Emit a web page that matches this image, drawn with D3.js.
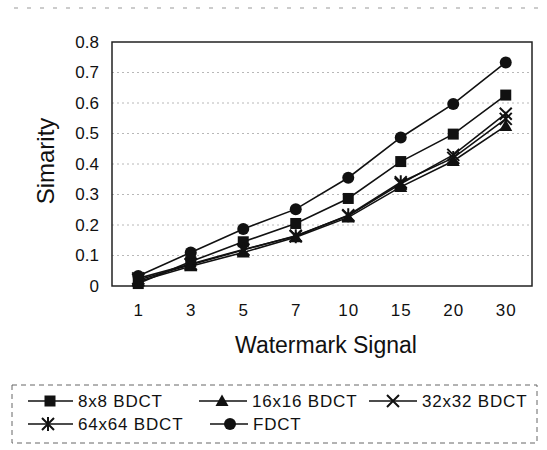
<!DOCTYPE html>
<html>
<head>
<meta charset="utf-8">
<script src="https://cdn.jsdelivr.net/npm/d3@7"></script>
<style>
  body { margin: 0; background: #fff; }
  svg { display: block; font-family: 'Liberation Sans', Arial, sans-serif; }
</style>
</head>
<body>
<div id="chart"></div>
<script>
const categories = ['1', '3', '5', '7', '10', '15', '20', '30']
const yTicks = [0, 0.1, 0.2, 0.3, 0.4, 0.5, 0.6, 0.7, 0.8]
const bdct8 = [0.008, 0.08, 0.145, 0.205, 0.287, 0.408, 0.498, 0.626]
const bdct16 = [0.015, 0.065, 0.11, 0.16, 0.225, 0.325, 0.41, 0.525]
const bdct32 = [0.02, 0.07, 0.118, 0.165, 0.23, 0.335, 0.43, 0.565]
const bdct64 = [0.025, 0.072, 0.12, 0.163, 0.232, 0.34, 0.42, 0.548]
const fdct = [0.033, 0.11, 0.187, 0.252, 0.355, 0.487, 0.597, 0.733]

const series = [
  { name: '8x8 BDCT', values: bdct8, marker: 'square' },
  { name: '16x16 BDCT', values: bdct16, marker: 'triangle' },
  { name: '32x32 BDCT', values: bdct32, marker: 'cross' },
  { name: '64x64 BDCT', values: bdct64, marker: 'star' },
  { name: 'FDCT', values: fdct, marker: 'circle' }
]

const width = 547
const height = 450
const margin = { top: 42, right: 15, bottom: 164, left: 112 }

const svg = d3.select('#chart').append('svg').attr('width', width).attr('height', height)

const xScale = d3
  .scalePoint()
  .domain(categories)
  .range([margin.left, width - margin.right])
  .padding(0.5)

const yScale = d3
  .scaleLinear()
  .domain([0, 0.8])
  .range([height - margin.bottom, margin.top])

// scan artifact line at the very top
svg
  .append('line')
  .attr('x1', 14)
  .attr('x2', 540)
  .attr('y1', 8)
  .attr('y2', 8)
  .attr('stroke', '#999')
  .attr('stroke-width', 1)
  .attr('stroke-dasharray', '4,9')

// grid lines
svg
  .append('g')
  .selectAll('line')
  .data(yTicks.filter((d) => d > 0 && d < 0.8))
  .join('line')
  .attr('x1', margin.left)
  .attr('x2', width - margin.right)
  .attr('y1', (d) => yScale(d))
  .attr('y2', (d) => yScale(d))
  .attr('stroke', '#b8b8b8')
  .attr('stroke-width', 1)
  .attr('stroke-dasharray', '2,3')

// plot frame
svg
  .append('rect')
  .attr('x', margin.left)
  .attr('y', margin.top)
  .attr('width', width - margin.right - margin.left)
  .attr('height', height - margin.bottom - margin.top)
  .attr('fill', 'none')
  .attr('stroke', '#222')
  .attr('stroke-width', 1.5)

// y axis
const yAxis = d3
  .axisLeft(yScale)
  .tickValues(yTicks)
  .tickFormat((d) => (d === 0 ? '0' : d3.format('.1f')(d)))
  .tickSize(0)
  .tickPadding(13)

svg
  .append('g')
  .attr('transform', `translate(${margin.left},0)`)
  .call(yAxis)
  .call((g) => {
    g.select('.domain').remove()
    g.selectAll('.tick text')
      .attr('fill', '#111')
      .attr('font-size', '17px')
      .attr('font-family', "'Liberation Sans', Arial, sans-serif")
  })

// x axis
const xAxis = d3.axisBottom(xScale).tickSize(0).tickPadding(18)

svg
  .append('g')
  .attr('transform', `translate(0,${height - margin.bottom})`)
  .call(xAxis)
  .call((g) => {
    g.select('.domain').remove()
    g.selectAll('.tick text')
      .attr('fill', '#111')
      .attr('font-size', '17px')
      .attr('letter-spacing', '1px')
      .attr('font-family', "'Liberation Sans', Arial, sans-serif")
  })

// axis titles
svg
  .append('text')
  .attr('x', 326)
  .attr('y', 353)
  .attr('text-anchor', 'middle')
  .attr('font-size', '23px')
  .attr('fill', '#111')
  .text('Watermark Signal')

svg
  .append('text')
  .attr('transform', 'translate(54,161) rotate(-90)')
  .attr('text-anchor', 'middle')
  .attr('font-size', '24px')
  .attr('fill', '#111')
  .text('Simarity')

// marker drawing
const drawMarker = (g, type, x, y) => {
  if (type === 'square') {
    g.append('rect')
      .attr('x', x - 5.5)
      .attr('y', y - 5.5)
      .attr('width', 11)
      .attr('height', 11)
      .attr('fill', '#111')
  } else if (type === 'triangle') {
    g.append('path')
      .attr('d', `M${x},${y - 6.5}L${x + 6.5},${y + 5}L${x - 6.5},${y + 5}Z`)
      .attr('fill', '#111')
  } else if (type === 'circle') {
    g.append('circle').attr('cx', x).attr('cy', y).attr('r', 6).attr('fill', '#111')
  } else if (type === 'cross') {
    g.append('path')
      .attr('d', `M${x - 6},${y - 6}L${x + 6},${y + 6}M${x - 6},${y + 6}L${x + 6},${y - 6}`)
      .attr('stroke', '#111')
      .attr('stroke-width', 2)
  } else if (type === 'star') {
    g.append('path')
      .attr(
        'd',
        `M${x - 6},${y - 6}L${x + 6},${y + 6}M${x - 6},${y + 6}L${x + 6},${y - 6}M${x},${y - 7}L${x},${y + 7}`
      )
      .attr('stroke', '#111')
      .attr('stroke-width', 2)
  }
}

const line = d3
  .line()
  .x((d, i) => xScale(categories[i]))
  .y((d) => yScale(d))

const plot = svg.append('g')
series.forEach((s) => {
  plot
    .append('path')
    .attr('d', line(s.values))
    .attr('fill', 'none')
    .attr('stroke', '#111')
    .attr('stroke-width', 1.6)
  const mg = plot.append('g')
  s.values.forEach((v, i) => drawMarker(mg, s.marker, xScale(categories[i]), yScale(v)))
})

// legend
svg
  .append('rect')
  .attr('x', 12)
  .attr('y', 385)
  .attr('width', 525)
  .attr('height', 58)
  .attr('fill', 'none')
  .attr('stroke', '#666')
  .attr('stroke-width', 1)
  .attr('stroke-dasharray', '5,4')

const legendPos = [
  { x1: 28, x2: 73, mx: 50, tx: 78, y: 401 },
  { x1: 199, x2: 247, mx: 222, tx: 252, y: 401 },
  { x1: 369, x2: 417, mx: 393, tx: 422, y: 401 },
  { x1: 28, x2: 73, mx: 48, tx: 78, y: 424 },
  { x1: 210, x2: 248, mx: 230, tx: 253, y: 424 }
]

const legend = svg.append('g')
series.forEach((s, i) => {
  const p = legendPos[i]
  legend
    .append('line')
    .attr('x1', p.x1)
    .attr('x2', p.x2)
    .attr('y1', p.y)
    .attr('y2', p.y)
    .attr('stroke', '#111')
    .attr('stroke-width', 1.6)
  drawMarker(legend, s.marker, p.mx, p.y)
  legend
    .append('text')
    .attr('x', p.tx)
    .attr('y', p.y + 6)
    .attr('font-size', '17px')
    .attr('letter-spacing', '0.8px')
    .attr('fill', '#111')
    .text(s.name)
})
</script>
</body>
</html>
